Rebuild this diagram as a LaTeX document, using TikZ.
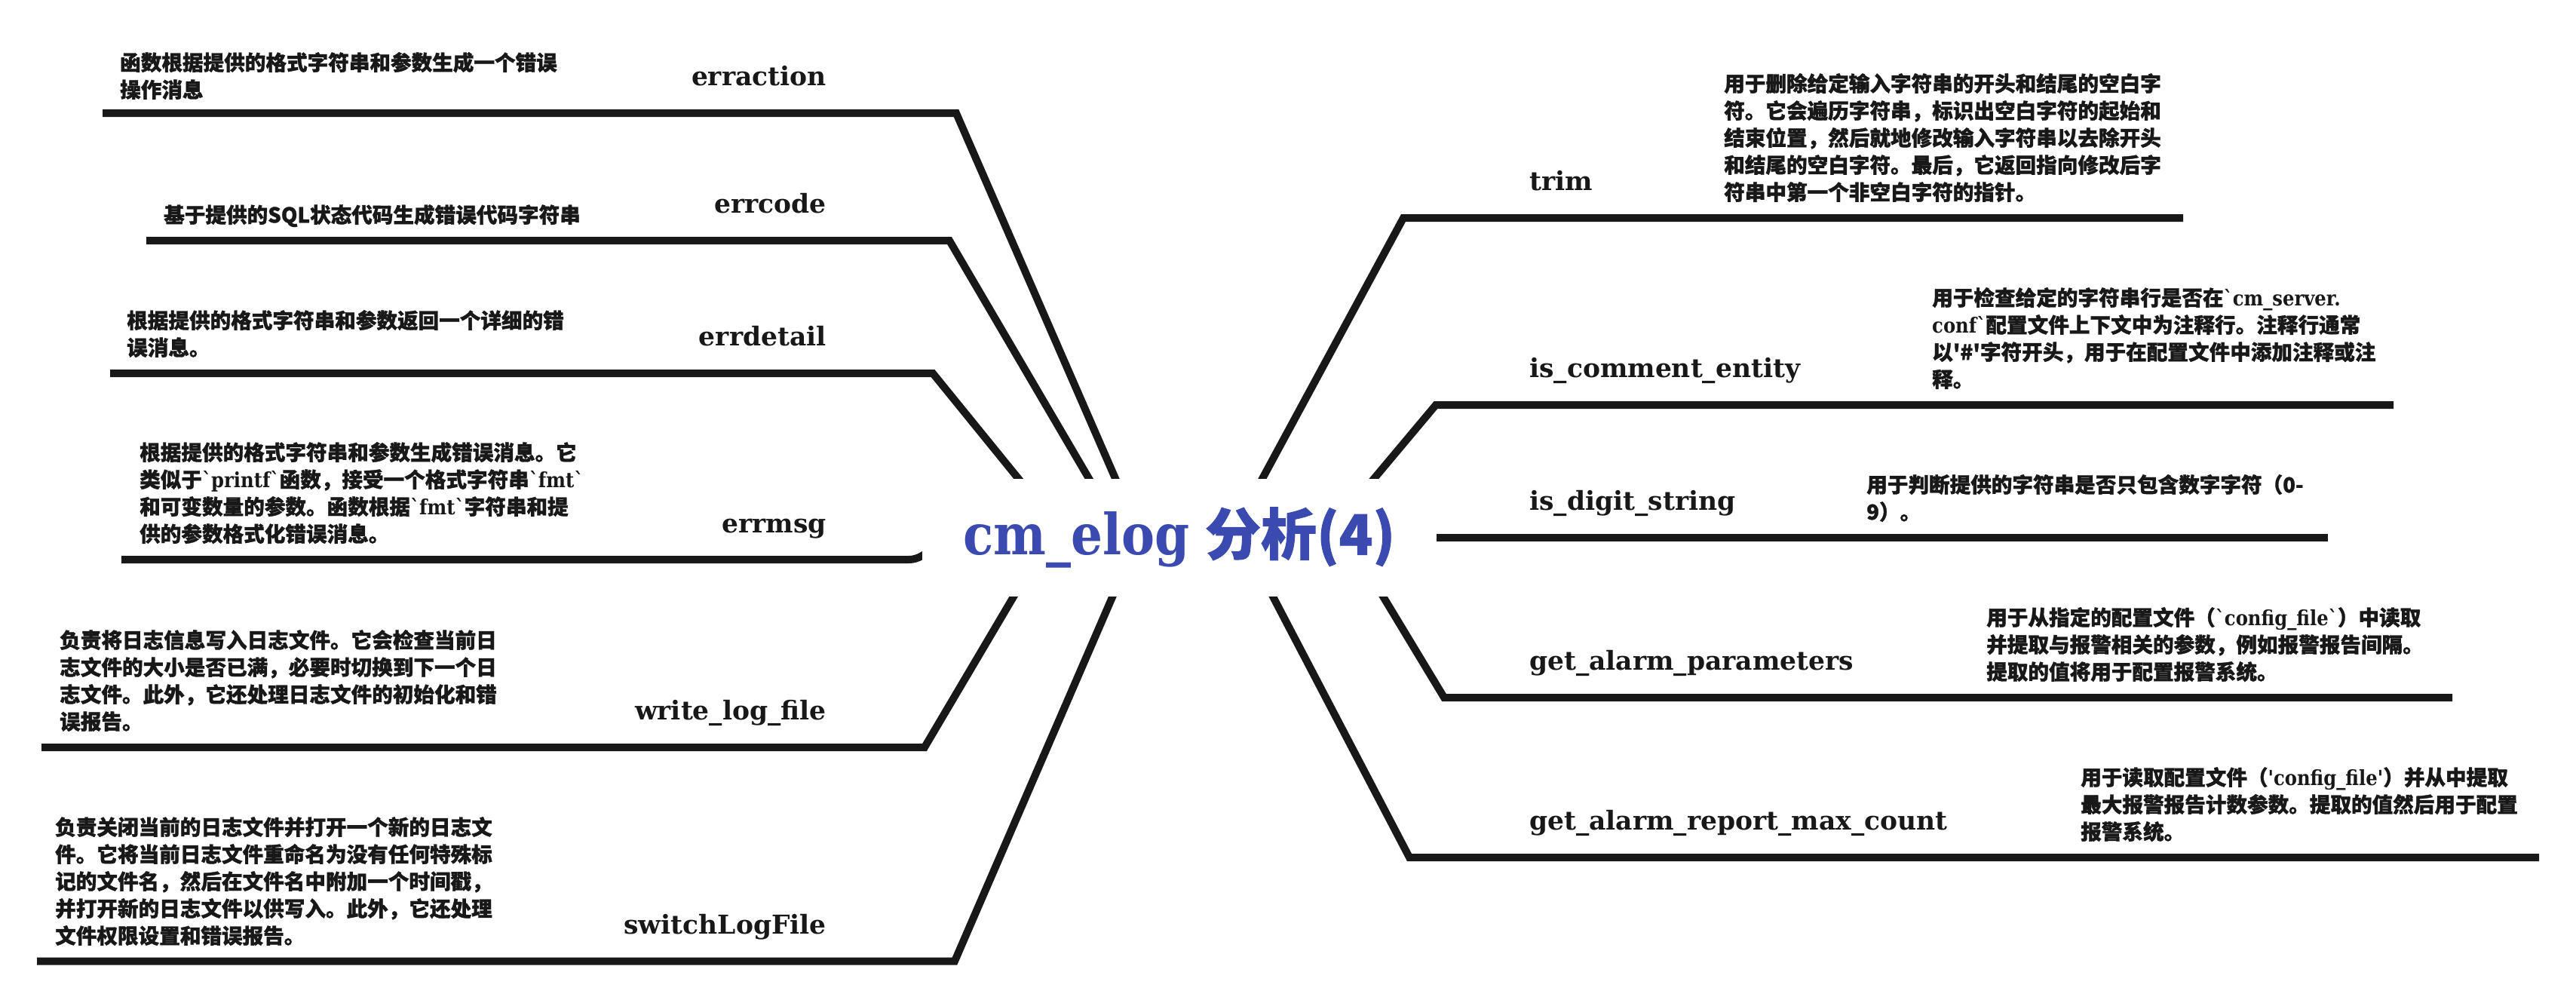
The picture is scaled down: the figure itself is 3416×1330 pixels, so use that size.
\documentclass[tikz,border=0pt]{standalone}
\usepackage{fontspec}
\usetikzlibrary{backgrounds}
\newfontfamily\cjk{Noto Sans CJK SC}[BoldFeatures={FakeBold=1.2}]
\newfontfamily\slab{DejaVu Serif}
\newfontfamily\slabn{DejaVu Serif}[FakeStretch=0.88]
\definecolor{linecol}{RGB}{24,24,24}
\definecolor{txtcol}{RGB}{24,24,24}
\definecolor{titlecol}{RGB}{58,74,176}
\tikzset{
  branch/.style={line width=10pt, draw=linecol, line join=miter, line cap=butt},
  lbl/.style={font=\slab\bfseries\fontsize{34.5}{40}\selectfont, text=txtcol, inner sep=0pt},
  lblL/.style={lbl, anchor=base east},
  lblR/.style={lbl, anchor=base west},
  desc/.style={font=\cjk\bfseries\fontsize{27.6}{36}\selectfont, text=txtcol, inner sep=0pt, align=left, anchor=north west},
  titlebox/.style={fill=white, minimum width=682pt, minimum height=156pt, inner sep=0pt, text=titlecol},
}
\newcommand{\lt}[1]{{\slabn #1}}
\begin{document}
\begin{tikzpicture}[x=1pt,y=-1pt]
\useasboundingbox (0,0) rectangle (3416,1330);

% centre
\node[titlebox] (center) at (1564,713) {\fontsize{74}{80}\selectfont{\slabn\bfseries\fontsize{75}{80}\selectfont cm\_elog\hspace{20pt}}{\cjk\bfseries 分析(4)}};

% left labels
\node[lblL] (l-erraction) at (1096,113) {erraction};
\node[lblL] (l-errcode) at (1096,282) {errcode};
\node[lblL] (l-errdetail) at (1096,458) {errdetail};
\node[lblL] (l-errmsg) at (1096,706) {errmsg};
\node[lblL] (l-writelog) at (1096,954) {write\_log\_file};
\node[lblL] (l-switchlog) at (1096,1238) {switchLogFile};

% right labels
\node[lblR] (l-trim) at (2028,252) {trim};
\node[lblR] (l-comment) at (2028,500) {is\_comment\_entity};
\node[lblR] (l-digit) at (2028,676) {is\_digit\_string};
\node[lblR] (l-params) at (2028,888) {get\_alarm\_parameters};
\node[lblR] (l-maxcount) at (2028,1100) {get\_alarm\_report\_max\_count};

% left descriptions
\node[desc] (d-erraction) at (159,69) {函数根据提供的格式字符串和参数生成一个错误\\操作消息};
\node[desc] (d-errcode) at (217,271) {基于提供的SQL状态代码生成错误代码字符串};
\node[desc] (d-errdetail) at (168,411) {根据提供的格式字符串和参数返回一个详细的错\\误消息。};
\node[desc] (d-errmsg) at (185,586) {根据提供的格式字符串和参数生成错误消息。它\\类似于\lt{`printf`}函数，接受一个格式字符串\lt{`fmt`}\\和可变数量的参数。函数根据\lt{`fmt`}字符串和提\\供的参数格式化错误消息。};
\node[desc] (d-writelog) at (79,835) {负责将日志信息写入日志文件。它会检查当前日\\志文件的大小是否已满，必要时切换到下一个日\\志文件。此外，它还处理日志文件的初始化和错\\误报告。};
\node[desc] (d-switchlog) at (73,1083) {负责关闭当前的日志文件并打开一个新的日志文\\件。它将当前日志文件重命名为没有任何特殊标\\记的文件名，然后在文件名中附加一个时间戳，\\并打开新的日志文件以供写入。此外，它还处理\\文件权限设置和错误报告。};

% right descriptions
\node[desc] (d-trim) at (2286,97) {用于删除给定输入字符串的开头和结尾的空白字\\符。它会遍历字符串，标识出空白字符的起始和\\结束位置，然后就地修改输入字符串以去除开头\\和结尾的空白字符。最后，它返回指向修改后字\\符串中第一个非空白字符的指针。};
\node[desc] (d-comment) at (2562,381) {用于检查给定的字符串行是否在\lt{`cm\_server.}\\\lt{conf`}配置文件上下文中为注释行。注释行通常\\以'\#'字符开头，用于在配置文件中添加注释或注\\释。};
\node[desc] (d-digit) at (2475,629) {用于判断提供的字符串是否只包含数字字符（0-\\9）。};
\node[desc] (d-params) at (2634,805) {用于从指定的配置文件（\lt{`config\_file`}）中读取\\并提取与报警相关的参数，例如报警报告间隔。\\提取的值将用于配置报警系统。};
\node[desc] (d-maxcount) at (2759,1017) {用于读取配置文件（\lt{'config\_file'}）并从中提取\\最大报警报告计数参数。提取的值然后用于配置\\报警系统。};

% connector points
\coordinate (s-erraction) at (136,150);   \coordinate (k-erraction) at (1268,150);  \coordinate (c-erraction) at (1488,655);
\coordinate (s-errcode) at (194,319);     \coordinate (k-errcode) at (1259,319);    \coordinate (c-errcode) at (1456,655);
\coordinate (s-errdetail) at (146,495);   \coordinate (k-errdetail) at (1237,495);  \coordinate (c-errdetail) at (1367,655);
\coordinate (s-errmsg) at (161,742);      \coordinate (k-errmsg) at (1205,742);     \coordinate (c-errmsg) at (1245,719);
\coordinate (s-writelog) at (55,991);     \coordinate (k-writelog) at (1226,991);   \coordinate (c-writelog) at (1356,771);
\coordinate (s-switchlog) at (49,1274.5); \coordinate (k-switchlog) at (1266,1274.5); \coordinate (c-switchlog) at (1484,771);
\coordinate (s-trim) at (2895,289);       \coordinate (k-trim) at (1861,289);       \coordinate (c-trim) at (1663,655);
\coordinate (s-comment) at (3174,537);    \coordinate (k-comment) at (1904,537);    \coordinate (c-comment) at (1805,655);
\coordinate (s-digit) at (3087,713);      \coordinate (c-digit) at (1880,713);
\coordinate (s-params) at (3252,925);     \coordinate (k-params) at (1915,925);     \coordinate (c-params) at (1822,771);
\coordinate (s-maxcount) at (3367,1137);  \coordinate (k-maxcount) at (1869,1137);  \coordinate (c-maxcount) at (1677.5,771);

\begin{scope}[on background layer]
\draw[branch] (s-erraction) -- (k-erraction) -- (c-erraction);
\draw[branch] (s-errcode) -- (k-errcode) -- (c-errcode);
\draw[branch] (s-errdetail) -- (k-errdetail) -- (c-errdetail);
\draw[branch] (s-errmsg) -- (k-errmsg) .. controls (1218,742) and (1228,735) .. (c-errmsg);
\draw[branch] (s-writelog) -- (k-writelog) -- (c-writelog);
\draw[branch] (s-switchlog) -- (k-switchlog) -- (c-switchlog);
\draw[branch] (s-trim) -- (k-trim) -- (c-trim);
\draw[branch] (s-comment) -- (k-comment) -- (c-comment);
\draw[branch] (s-digit) -- (c-digit);
\draw[branch] (s-params) -- (k-params) -- (c-params);
\draw[branch] (s-maxcount) -- (k-maxcount) -- (c-maxcount);
\end{scope}
\end{tikzpicture}
\end{document}
